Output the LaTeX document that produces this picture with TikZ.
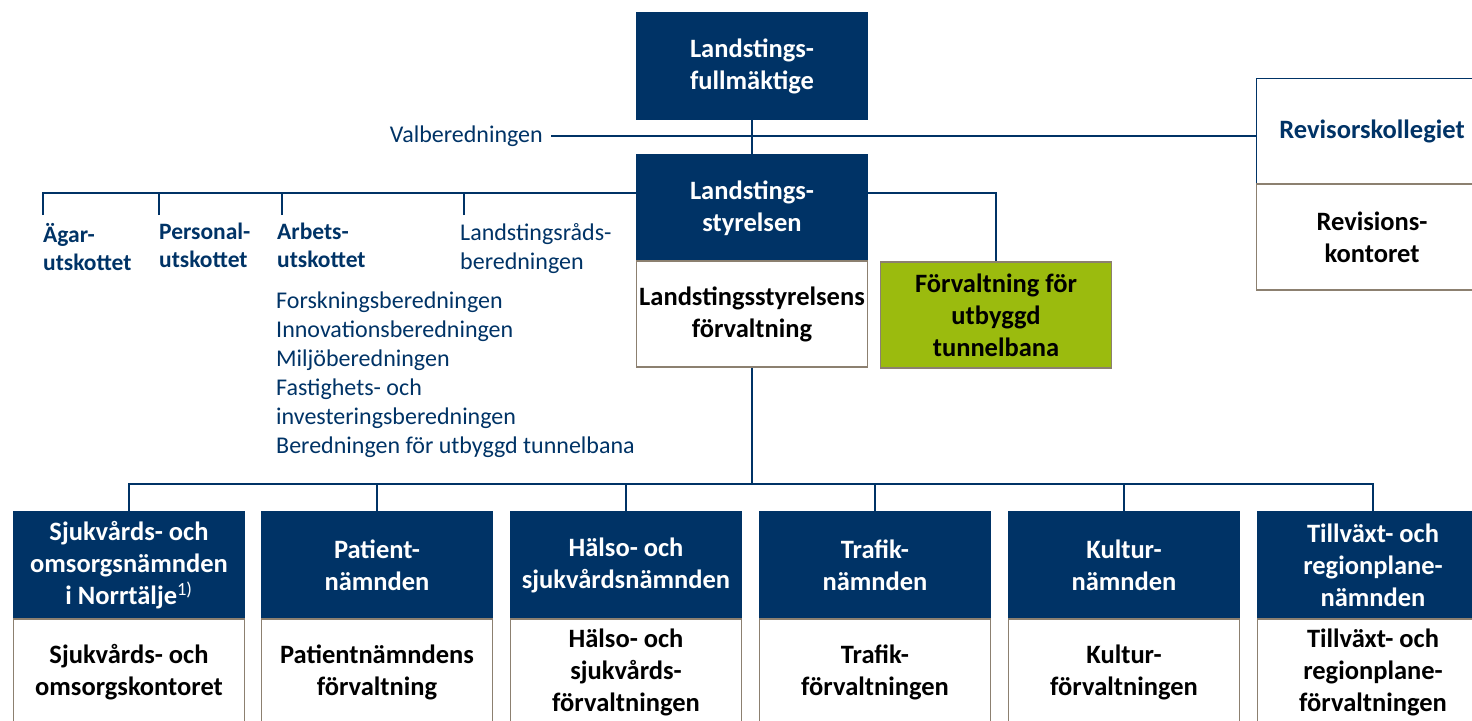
\documentclass[tikz,border=0pt]{standalone}
\usepackage{fontspec}
\setmainfont{Carlito}
\definecolor{navy}{RGB}{0,51,102}
\definecolor{frame}{RGB}{140,128,112}
\definecolor{tgreen}{RGB}{155,187,14}
\newcommand{\boxfont}{\fontsize{26.5}{32}\selectfont\bfseries}
\newcommand{\notefont}{\fontsize{24}{29}\selectfont}
\newcommand{\labfont}{\fontsize{23.5}{28}\selectfont\bfseries}

\begin{document}
\begin{tikzpicture}[
    x=1pt, y=-1pt,
    box/.style={rectangle, minimum width=231pt, minimum height=106pt, inner sep=0pt, align=center, font=\boxfont, line width=1.5pt},
    board/.style={box, fill=navy, draw=navy, text=white},
    office/.style={box, fill=white, draw=frame, text=black},
    metro/.style={box, fill=tgreen, draw=frame, text=black},
    audit/.style={box, fill=white, draw=navy, text=navy},
    sub/.style={anchor=north west, inner xsep=0pt, inner ysep=8pt, align=left, text=navy},
    edge/.style={draw=navy, line width=2pt}
]
\useasboundingbox (0,0) rectangle (1472,720);

% Top level
\node[board] (lf) at (752,66) {Landstings-\\fullmäktige};
\node[board] (styr) at (752,208) {Landstings-\\styrelsen};
\node[office] (styrf) at (752,314) {Landstingsstyrelsens\\förvaltning};
\node[metro] (ftb) at (996,315) {Förvaltning för\\utbyggd\\tunnelbana};

% Audit
\node[audit] (revk) at (1372,131.5) {Revisorskollegiet};
\node[office] (revf) at (1372,237) {Revisions-\\kontoret};
\node[anchor=east, inner xsep=8pt, inner ysep=0pt, text=navy, font=\notefont] (valb) at (551,136) {Valberedningen};

% Committees under the board
\coordinate (cbus) at (0,193);
\node[sub, font=\labfont] (agar) at (43,215) {Ägar-\\utskottet};
\node[sub, font=\labfont] (pers) at (159,215) {Personal-\\utskottet};
\node[sub, font=\labfont] (arb) at (277,215) {Arbets-\\utskottet};
\node[sub, font=\notefont] (lrb) at (460,215) {Landstingsråds-\\beredningen};
\node[sub, font=\notefont] (ber) at (276,284) {Forskningsberedningen\\Innovationsberedningen\\Miljöberedningen\\Fastighets- och\\investeringsberedningen\\Beredningen för utbyggd tunnelbana};
\coordinate (arbtick) at ([xshift=5pt]arb.north west);
\coordinate (lrbtick) at ([xshift=4pt]lrb.north west);

% Level 2
\node[board] (sjuk) at (129,565) {Sjukvårds- och\\omsorgsnämnden\\i Norrtälje\textsuperscript{\mdseries 1)}};
\node[board] (pat) at (377,565) {Patient-\\nämnden};
\node[board] (hsn) at (626,565) {Hälso- och\\sjukvårdsnämnden};
\node[board] (traf) at (875,565) {Trafik-\\nämnden};
\node[board] (kult) at (1124,565) {Kultur-\\nämnden};
\node[board] (tillv) at (1373,565) {Tillväxt- och\\regionplane-\\nämnden};

% Level 3
\node[office] (sjukf) at (129,672) {Sjukvårds- och\\omsorgskontoret};
\node[office] (patf) at (377,672) {Patientnämndens\\förvaltning};
\node[office] (hsnf) at (626,672) {Hälso- och\\sjukvårds-\\förvaltningen};
\node[office] (traff) at (875,672) {Trafik-\\förvaltningen};
\node[office] (kultf) at (1124,672) {Kultur-\\förvaltningen};
\node[office] (tillvf) at (1373,672) {Tillväxt- och\\regionplane-\\förvaltningen};

% Edges at the top
\draw[edge] (lf.south) -- (styr.north);
\draw[edge] (valb.east) -- (valb.east -| revk.west);

% Edges to the committees
\draw[edge] (agar.north west) |- (styr.west |- cbus);
\draw[edge] (pers.north west) -- (pers.north west |- cbus);
\draw[edge] (arbtick) -- (arbtick |- cbus);
\draw[edge] (lrbtick) -- (lrbtick |- cbus);
\draw[edge] (styr.east |- cbus) -| (ftb.north);

% Edges to the boards below
\coordinate (nbus) at (0,484);
\draw[edge] (styrf.south) -- (styrf.south |- nbus);
\draw[edge] (sjuk.north) |- (tillv.north |- nbus) -- (tillv.north);
\draw[edge] (pat.north) -- (pat.north |- nbus);
\draw[edge] (hsn.north) -- (hsn.north |- nbus);
\draw[edge] (traf.north) -- (traf.north |- nbus);
\draw[edge] (kult.north) -- (kult.north |- nbus);
\end{tikzpicture}
\end{document}
